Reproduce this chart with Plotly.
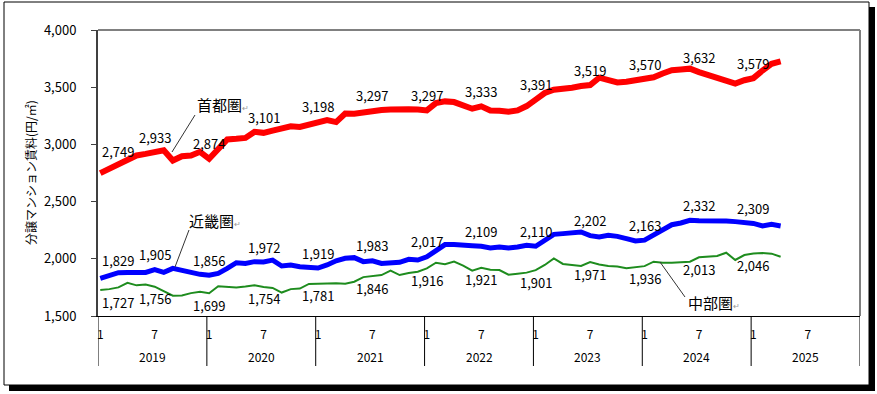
import plotly.graph_objects as go

# ---------------- data ----------------
months = list(range(76))  # Jan 2019 .. Apr 2025 (monthly index)
years = ["2019", "2020", "2021", "2022", "2023", "2024", "2025"]
month_ticks = ["1", "7"]

shutoken = [2749, 2789, 2815, 2862, 2903, 2917, 2933, 2949, 2859, 2897, 2903, 2935,
            2874, 2960, 3043, 3049, 3057, 3110, 3101, 3121, 3145, 3159, 3153, 3174,
            3198, 3213, 3195, 3270, 3268, 3282, 3297, 3300, 3305, 3310, 3308, 3305,
            3297, 3361, 3376, 3370, 3338, 3312, 3333, 3297, 3294, 3285, 3297, 3335,
            3391, 3449, 3478, 3484, 3496, 3510, 3519, 3583, 3569, 3542, 3548, 3560,
            3570, 3587, 3620, 3649, 3655, 3662, 3632, 3605, 3584, 3561, 3532, 3561,
            3579, 3646, 3704, 3725]

kinki = [1829, 1858, 1879, 1881, 1879, 1881, 1905, 1881, 1916, 1896, 1879, 1864,
         1856, 1873, 1916, 1966, 1960, 1975, 1972, 1989, 1937, 1946, 1931, 1922,
         1919, 1946, 1983, 2004, 2010, 1975, 1983, 1960, 1960, 1969, 1995, 1989,
         2017, 2075, 2124, 2124, 2115, 2115, 2109, 2094, 2103, 2094, 2103, 2118,
         2110, 2161, 2214, 2220, 2228, 2234, 2202, 2191, 2205, 2196, 2176, 2156,
         2163, 2205, 2255, 2298, 2313, 2336, 2332, 2333, 2332, 2330, 2325, 2319,
         2309, 2287, 2301, 2287]

chubu = [1727, 1735, 1750, 1790, 1768, 1775, 1756, 1720, 1678, 1680, 1700, 1712,
         1699, 1760, 1755, 1750, 1758, 1768, 1754, 1745, 1705, 1735, 1740, 1780,
         1781, 1785, 1786, 1782, 1800, 1840, 1846, 1858, 1896, 1858, 1875, 1887,
         1916, 1966, 1952, 1975, 1940, 1896, 1921, 1905, 1902, 1861, 1870, 1879,
         1901, 1946, 2004, 1955, 1946, 1937, 1971, 1950, 1937, 1932, 1917, 1925,
         1936, 1975, 1966, 1966, 1968, 1975, 2013, 2018, 2024, 2053, 1990, 2033,
         2046, 2050, 2045, 2018]

label_idx = list(range(0, 76, 6))

FONT = "Noto Sans CJK JP"

# pixel helpers (plot area: x 98..860, y 30..316)
def px(x):
    return (x - 98) / 762.0

def py(y):
    return (316 - y) / 286.0

fig = go.Figure()

fig.add_trace(go.Scatter(x=months, y=shutoken, mode="lines",
                         line=dict(color="#FF0000", width=6), name="首都圏"))
fig.add_trace(go.Scatter(x=months, y=kinki, mode="lines",
                         line=dict(color="#0000FF", width=5), name="近畿圏"))
fig.add_trace(go.Scatter(x=months, y=chubu, mode="lines",
                         line=dict(color="#1E8C1E", width=2), name="中部圏"))

annotations = []
for series, shift, first_shift in ((shutoken, 15, 22), (kinki, 15, 18), (chubu, -12, -12)):
    for i in label_idx:
        first = (i == 0)
        annotations.append(dict(x=months[i], y=series[i], xref="x", yref="y",
                                xanchor="left" if first else "center", yanchor="middle",
                                text=f"{series[i]:,}", showarrow=False,
                                yshift=first_shift if first else shift,
                                font=dict(family=FONT, size=13, color="black")))

# year labels
for k, yr in enumerate(years):
    annotations.append(dict(x=12 * k + 5.75, y=py(356), xref="x", yref="paper",
                            xanchor="center", yanchor="middle",
                            text=yr, showarrow=False,
                            font=dict(family=FONT, size=12, color="black")))

# series name callouts
ret = "<span style='color:#999999;font-size:8px'>↵</span>"
for name, cx, cy in (("首都圏", 223, 104), ("近畿圏", 215, 220), ("中部圏", 714, 302)):
    annotations.append(dict(x=px(cx), y=py(cy), xref="paper", yref="paper",
                            xanchor="center", yanchor="middle", text=name + ret,
                            showarrow=False, font=dict(family=FONT, size=15, color="black")))

# y-axis title
annotations.append(dict(x=px(30), y=py(173), xref="paper", yref="paper",
                        xanchor="center", yanchor="middle",
                        text="分譲マンション賃料(円/㎡)", textangle=-90, showarrow=False,
                        font=dict(family=FONT, size=12, color="black")))

shapes = []
# outer frame with shadow
shapes.append(dict(type="rect", xref="paper", yref="paper", x0=px(9), x1=px(875), y0=py(391), y1=py(7),
                   fillcolor="black", line=dict(width=0), layer="below"))
shapes.append(dict(type="rect", xref="paper", yref="paper", x0=px(4), x1=px(869), y0=py(385), y1=py(2),
                   fillcolor="white", line=dict(color="black", width=1), layer="below"))
# plot area border (gray top & right)
shapes.append(dict(type="line", xref="paper", yref="paper", x0=0, x1=1, y0=1, y1=1,
                   line=dict(color="#808080", width=2), layer="above"))
shapes.append(dict(type="line", xref="paper", yref="paper", x0=1, x1=1, y0=0, y1=1,
                   line=dict(color="#808080", width=2), layer="above"))
# year separators below axis
for k in range(8):
    shapes.append(dict(type="line", xref="x", yref="paper", x0=12 * k - 0.25, x1=12 * k - 0.25,
                       y0=0, y1=py(366), line=dict(color="black", width=1)))
# leader lines
shapes.append(dict(type="line", xref="paper", yref="paper", x0=px(172), y0=py(152), x1=px(195), y1=py(115),
                   line=dict(color="#333333", width=1)))
shapes.append(dict(type="line", xref="paper", yref="paper", x0=px(175), y0=py(267), x1=px(189), y1=py(230),
                   line=dict(color="#333333", width=1)))
shapes.append(dict(type="line", xref="paper", yref="paper", x0=px(660), y0=py(262), x1=px(685), y1=py(297),
                   line=dict(color="#333333", width=1)))

fig.update_layout(
    width=877, height=394,
    margin=dict(l=98, r=17, t=30, b=78),
    paper_bgcolor="white", plot_bgcolor="rgba(0,0,0,0)",
    showlegend=False,
    font=dict(family=FONT, size=12, color="black"),
    annotations=annotations, shapes=shapes,
    xaxis=dict(range=[-0.25, 83.75], tickmode="array",
               tickvals=list(range(0, 84, 6)),
               ticktext=[month_ticks[(v // 6) % 2] for v in range(0, 84, 6)],
               showgrid=False, zeroline=False, showline=True, linecolor="black", linewidth=1,
               ticks="", ticklabelstandoff=8, tickfont=dict(family=FONT, size=12)),
    yaxis=dict(range=[1500, 4000], dtick=500, tickformat=",", showgrid=False, zeroline=False,
               showline=True, linecolor="#404040", linewidth=2, ticks="outside", ticklen=5,
               tickcolor="#404040", ticklabelstandoff=12, tickfont=dict(family=FONT, size=13)),
)

fig.write_html("out.html", config={"displayModeBar": False},
               post_script="document.body.style.margin='0';document.body.style.overflow='hidden';")
